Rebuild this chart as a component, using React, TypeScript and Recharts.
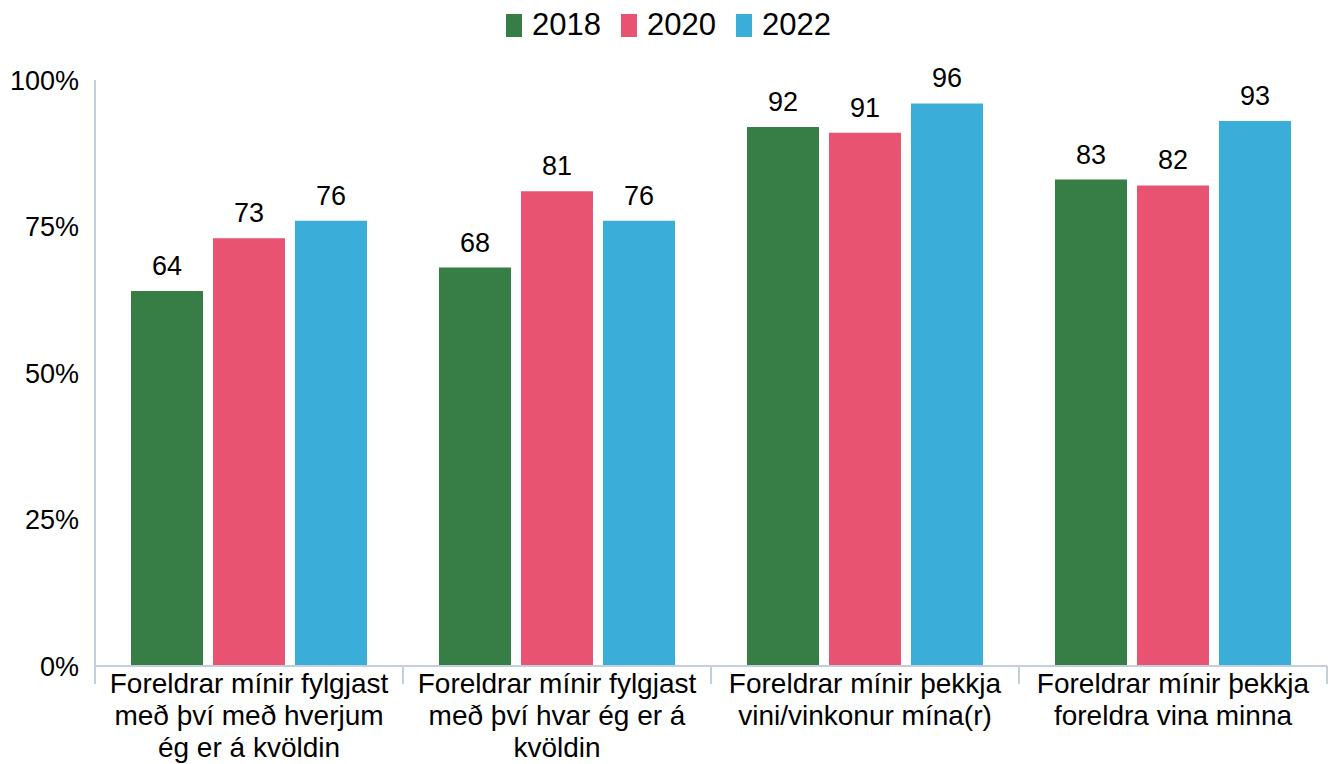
import { Bar, BarChart, LabelList, Legend, XAxis, YAxis } from 'recharts'

const categories = [
  'Foreldrar mínir fylgjast\nmeð því með hverjum\nég er á kvöldin',
  'Foreldrar mínir fylgjast\nmeð því hvar ég er á\nkvöldin',
  'Foreldrar mínir þekkja\nvini/vinkonur mína(r)',
  'Foreldrar mínir þekkja\nforeldra vina minna',
]

const values2018 = [64, 68, 92, 83]
const values2020 = [73, 81, 91, 82]
const values2022 = [76, 76, 96, 93]

const yTicks = [0, 25, 50, 75, 100]

const series = [
  { key: 'y2018', name: '2018', color: '#377e46' },
  { key: 'y2020', name: '2020', color: '#e95372' },
  { key: 'y2022', name: '2022', color: '#3badd9' },
]

const data = categories.map((label, i) => ({
  label,
  y2018: values2018[i],
  y2020: values2020[i],
  y2022: values2022[i],
}))

const font = '"Liberation Sans", Arial, sans-serif'
const axisColor = '#c3cedf'

function CategoryTick(props: any) {
  const { x, y, payload, index } = props
  const half = payload?.offset ?? 154
  const lines = String(payload.value).split('\n')
  return (
    <g>
      <line x1={x - half} y1={y} x2={x - half} y2={y + 18} stroke={axisColor} strokeWidth={2} />
      {index === categories.length - 1 && (
        <line x1={x + half} y1={y} x2={x + half} y2={y + 18} stroke={axisColor} strokeWidth={2} />
      )}
      <text x={x} y={y} textAnchor="middle" fill="#000" fontSize={28} fontFamily={font}>
        {lines.map((line, i) => (
          <tspan key={i} x={x} y={y + 27 + i * 32}>
            {line}
          </tspan>
        ))}
      </text>
    </g>
  )
}

function LegendContent() {
  return (
    <div
      style={{
        height: 50,
        display: 'flex',
        justifyContent: 'center',
        alignItems: 'center',
        fontFamily: font,
        fontSize: 31,
        color: '#000',
      }}
    >
      {series.map((s) => (
        <div key={s.key} style={{ display: 'flex', alignItems: 'center', margin: '0 10px' }}>
          <span style={{ width: 16, height: 23, background: s.color, marginRight: 10 }} />
          <span>{s.name}</span>
        </div>
      ))}
    </div>
  )
}

export default function App() {
  return (
    <div style={{ width: 1337, height: 764, background: '#fff' }}>
      <style>{'body{margin:0}'}</style>
      <BarChart
        width={1337}
        height={764}
        data={data}
        margin={{ top: 30, right: 10, bottom: 0, left: 0 }}
        barCategoryGap={36}
        barGap={10}
      >
        <Legend
          verticalAlign="top"
          content={LegendContent}
          wrapperStyle={{ top: 0, left: 0, width: 1337, height: 50 }}
        />
        <XAxis
          dataKey="label"
          height={98}
          interval={0}
          tickLine={false}
          tickSize={0}
          tickMargin={0}
          axisLine={{ stroke: axisColor, strokeWidth: 2 }}
          tick={<CategoryTick />}
        />
        <YAxis
          width={95}
          domain={[0, 100]}
          ticks={yTicks}
          tickFormatter={(v) => `${v}%`}
          tickLine={false}
          tickSize={0}
          tickMargin={16}
          axisLine={{ stroke: axisColor, strokeWidth: 2 }}
          tick={{ fill: '#000', fontSize: 27, fontFamily: font }}
        />
        {series.map((s) => (
          <Bar key={s.key} dataKey={s.key} name={s.name} fill={s.color} isAnimationActive={false}>
            <LabelList
              dataKey={s.key}
              position="top"
              offset={16}
              fill="#000"
              fontSize={27}
              fontFamily={font}
            />
          </Bar>
        ))}
      </BarChart>
    </div>
  )
}
